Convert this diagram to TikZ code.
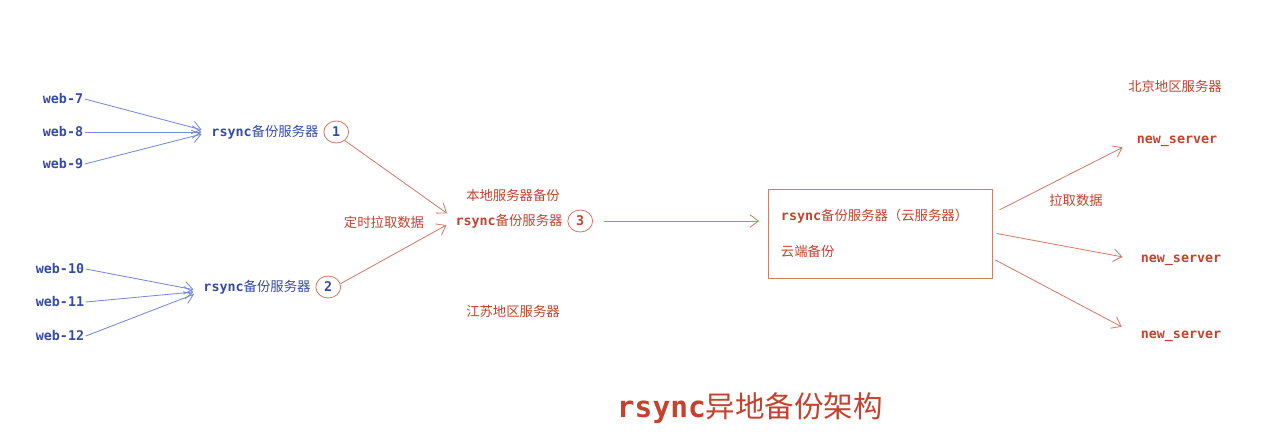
\documentclass[tikz,border=0pt]{standalone}
\usepackage{fontspec}
\setmainfont{Noto Sans CJK SC}
\setmonofont{DejaVu Sans Mono}
\usetikzlibrary{shapes.geometric, arrows.meta, positioning}
\definecolor{hostblue}{RGB}{52,74,168}
\definecolor{lineblue}{RGB}{118,138,214}
\definecolor{bkred}{RGB}{196,66,46}
\definecolor{linered}{RGB}{212,124,106}

\begin{document}
\begin{tikzpicture}[
    x=0.025cm, y=-0.025cm,
    host/.style={font=\fontsize{9.5}{11}\selectfont\ttfamily\bfseries, text=hostblue, inner sep=1pt},
    srvblue/.style={font=\fontsize{9.5}{11}\selectfont, text=hostblue, inner sep=1pt},
    srvred/.style={font=\fontsize{9.5}{11}\selectfont, text=bkred, inner sep=1pt},
    newsrv/.style={font=\fontsize{9.5}{11}\selectfont\ttfamily\bfseries, text=bkred, inner sep=1pt},
    numcirc/.style={ellipse, draw=linered, semithick, minimum width=0.62cm, minimum height=0.55cm, inner sep=0pt, font=\fontsize{9.5}{11}\selectfont\ttfamily\bfseries},
    cloudbox/.style={rectangle, draw=linered, semithick, minimum height=2.225cm, text width=4.95cm, inner xsep=0.325cm, align=left, font=\fontsize{9.5}{25.5}\selectfont, text=bkred},
    bluearrow/.style={-{Straight Barb[length=6pt, width=9pt]}, draw=lineblue, semithick, shorten >=6pt},
    redarrow/.style={-{Straight Barb[length=6pt, width=9pt]}, draw=linered, semithick}
]
\useasboundingbox (0,0) rectangle (1261,443);

% Left: web hosts
\node[host] (w7) at (63,99) {web-7};
\node[host] (w8) at (63,132) {web-8};
\node[host] (w9) at (63,164) {web-9};
\node[host] (w10) at (60,269) {web-10};
\node[host] (w11) at (60,302) {web-11};
\node[host] (w12) at (60,336) {web-12};

% Local rsync servers
\node[srvblue] (r1) at (265,132) {{\ttfamily\bfseries rsync}备份服务器};
\node[numcirc, text=hostblue, right=0.08cm of r1] (c1) {1};
\node[srvblue] (r2) at (257,287) {{\ttfamily\bfseries rsync}备份服务器};
\node[numcirc, text=hostblue, right=0.08cm of r2] (c2) {2};

% Jiangsu backup server
\node[srvred] (r3) at (509,221) {{\ttfamily\bfseries rsync}备份服务器};
\node[numcirc, text=bkred, right=0.08cm of r3] (c3) {3};
\node[srvred] (local) at (513,195) {本地服务器备份};
\node[srvred] (pull) at (384,222) {定时拉取数据};
\node[srvred] (js) at (513,311) {江苏地区服务器};

% Cloud server
\node[cloudbox] (cloud) at (880,233.5) {{\ttfamily\bfseries rsync}备份服务器（云服务器）\\云端备份};

% Beijing servers
\node[srvred] (bj) at (1175,86) {北京地区服务器};
\node[newsrv] (ns1) at (1177,141) {new\_server};
\node[newsrv] (ns2) at (1181,260) {new\_server};
\node[newsrv] (ns3) at (1181,336) {new\_server};
\node[srvred] (pull2) at (1076,200) {拉取数据};

% Title
\node[font=\fontsize{21}{25}\selectfont, text=bkred] (title) at (750,408) {{\ttfamily\bfseries rsync}异地备份架构};

% Connectors
\draw[bluearrow] (w7.east) -- (r1.west);
\draw[bluearrow] (w8.east) -- (r1.west);
\draw[bluearrow] (w9.east) -- (r1.west);
\draw[bluearrow] (w10.east) -- ([yshift=-3pt]r2.west);
\draw[bluearrow] (w11.east) -- ([yshift=-3pt]r2.west);
\draw[bluearrow] (w12.east) -- ([yshift=-3pt]r2.west);

\draw[redarrow, shorten >=6pt] (c1.-45) -- ([yshift=2pt]r3.west);
\draw[redarrow, shorten >=6pt] (c2.15) -- (r3.west);
\draw[redarrow, shorten <=8pt, shorten >=6pt] (c3.east) -- (cloud.west |- c3.east);

\draw[redarrow, shorten >=10pt] ([xshift=5pt, yshift=0.59cm]cloud.east) -- (ns1.west);
\draw[redarrow, shorten >=12pt] ([xshift=3pt]cloud.east) -- (ns2.west);
\draw[redarrow, shorten >=14pt] ([xshift=2pt, yshift=-0.66cm]cloud.east) -- (ns3.west);

\end{tikzpicture}
\end{document}
